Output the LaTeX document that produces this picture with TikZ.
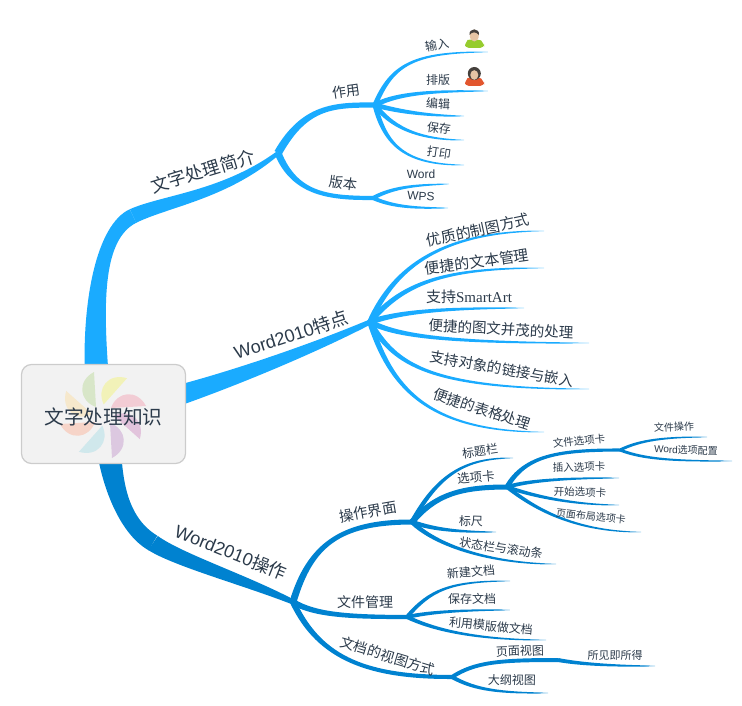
\documentclass[tikz,border=0pt]{standalone}
\usepackage{fontspec}
\setmainfont{Liberation Serif}
\newfontfamily\cjk{Noto Sans CJK SC}
\newfontfamily\arialf{Liberation Sans}
\usetikzlibrary{calc}
\definecolor{limbA}{HTML}{1AABFF}
\definecolor{limbB}{HTML}{0082D0}
\definecolor{labelcol}{HTML}{2B3A4A}
\pgfdeclarehorizontalshading{fadeA}{100bp}{color(0bp)=(limbA);color(69bp)=(limbA);color(75bp)=(limbA!35);color(100bp)=(limbA!35)}
\pgfdeclarehorizontalshading{fadeB}{100bp}{color(0bp)=(limbB);color(69bp)=(limbB);color(75bp)=(limbB!35);color(100bp)=(limbB!35)}
\tikzset{
 solidA/.style={fill=limbA},
 solidB/.style={fill=limbB},
 leafA/.style={shading=fadeA},
 leafB/.style={shading=fadeB},
 lbl/.style={font=\cjk\fontsize{#1}{#1}\selectfont,text=labelcol,inner sep=0pt},
}
% tapered curve: style, from, control, control, to, half widths, weights at the controls
\newcommand{\taper}[9]{
 \pgfmathsetmacro\wone{#8*#6+(1-#8)*#7}
 \pgfmathsetmacro\wtwo{#9*#6+(1-#9)*#7}
 \path[#1] ($(#2)!#6pt!90:(#3)$)
 .. controls ($(#3)!\wone pt!-90:(#2)$) and ($(#4)!\wtwo pt!90:(#5)$) .. ($(#5)!#7pt!-90:(#4)$)
 -- ($(#5)!#7pt!90:(#4)$)
 .. controls ($(#4)!\wtwo pt!-90:(#5)$) and ($(#3)!\wone pt!90:(#2)$) .. ($(#2)!#6pt!-90:(#3)$) -- cycle;
}
\newcommand{\limb}[7][solidA]{\taper{#1}{#2}{#3}{#4}{#5}{#6}{#7}{.67}{.33}}
\newcommand{\leaf}[7][leafA]{\taper{#1}{#2}{#3}{#4}{#5}{#6}{#7}{.85}{.5}}
\begin{document}
\begin{tikzpicture}[x=1pt,y=-1pt]
\useasboundingbox (0,0) rectangle (742,706);
%junctions
\coordinate (rootA) at (97,380); \coordinate (bendA) at (133,216); \coordinate (intro) at (278,153);
\coordinate (useJ) at (375,105); \coordinate (verJ) at (373,198);
\coordinate (rootB) at (170,398); \coordinate (featJ) at (370,322);
\coordinate (rootC) at (109,450); \coordinate (bendC) at (153,543); \coordinate (opJ) at (293,602);
\coordinate (uiJ) at (412,522); \coordinate (tabJ) at (507,487); \coordinate (fileTabJ) at (620,450);
\coordinate (mgrJ) at (407,617); \coordinate (viewJ) at (452,677); \coordinate (pageJ) at (558,660);
%free ends
\coordinate (eInput) at (488,52); \coordinate (eLayout) at (488,91); \coordinate (eEdit) at (464,116);
\coordinate (eSave) at (464,140); \coordinate (ePrint) at (464,165); \coordinate (eWord) at (449,184);
\coordinate (eWps) at (448,208);
\coordinate (eDraw) at (544,231); \coordinate (eText) at (544,268); \coordinate (eSmart) at (524,308);
\coordinate (ePic) at (589,343); \coordinate (eLink) at (589,389); \coordinate (eTable) at (544,432);
\coordinate (eTitle) at (513,458); \coordinate (eRuler) at (496,532); \coordinate (eStatus) at (556,564);
\coordinate (eIns) at (619,478); \coordinate (eStart) at (619,505); \coordinate (ePageTab) at (641,532);
\coordinate (eFileOp) at (707,437); \coordinate (eWordOpt) at (732,461);
\coordinate (eNew) at (510,581); \coordinate (eKeep) at (510,610); \coordinate (eTpl) at (546,640);
\coordinate (eWysiwyg) at (655,666); \coordinate (eOutline) at (548,693);
%first main branch
\taper{solidA}{rootA}{92,300}{100,232}{bendA}{12}{7.5}{.67}{.15}
\leaf[solidA]{bendA}{165,201}{225,195}{intro}{7.5}{2}
\limb{intro}{305,105}{335,105}{useJ}{4}{2.5}
\limb{intro}{295,195}{330,198}{verJ}{3.5}{2}
\leaf{useJ}{392,65}{412,52}{eInput}{2.5}{.4}
\leaf{useJ}{400,92}{440,91}{eLayout}{2.5}{.4}
\leaf{useJ}{400,112}{430,116}{eEdit}{2.5}{.4}
\leaf{useJ}{390,125}{415,140}{eSave}{2.5}{.4}
\leaf{useJ}{385,145}{405,165}{ePrint}{2.5}{.4}
\leaf{verJ}{395,186}{420,185}{eWord}{2}{.4}
\leaf{verJ}{395,208}{420,208}{eWps}{2}{.4}
%second main branch
\limb{rootB}{230,380}{310,350}{featJ}{10.5}{2.5}
\leaf{featJ}{395,265}{445,231}{eDraw}{2.8}{.4}
\leaf{featJ}{405,280}{450,268}{eText}{2.8}{.4}
\leaf{featJ}{400,312}{440,308}{eSmart}{2.8}{.4}
\leaf{featJ}{395,335}{440,343}{ePic}{2.8}{.4}
\leaf{featJ}{395,365}{430,389}{eLink}{2.8}{.4}
\leaf{featJ}{390,385}{425,432}{eTable}{2.8}{.4}
%third main branch
\taper{solidB}{rootC}{112,480}{122,525}{bendC}{12}{8.5}{.67}{.15}
\leaf[solidB]{bendC}{178,560}{245,580}{opJ}{8.5}{2.5}
\limb[solidB]{opJ}{310,545}{340,522}{uiJ}{3.5}{2.5}
\limb[solidB]{opJ}{315,615}{350,617}{mgrJ}{3}{2}
\limb[solidB]{opJ}{320,660}{370,677}{viewJ}{3}{2}
\leaf[leafB]{uiJ}{440,470}{470,458}{eTitle}{2.3}{.4}
\limb[solidB]{uiJ}{435,495}{460,487}{tabJ}{3}{2.5}
\leaf[leafB]{uiJ}{435,530}{460,532}{eRuler}{2.3}{.4}
\leaf[leafB]{uiJ}{435,545}{490,564}{eStatus}{2.3}{.4}
\limb[solidB]{tabJ}{525,455}{560,450}{fileTabJ}{2.5}{1.5}
\leaf[leafB]{tabJ}{530,480}{570,478}{eIns}{2}{.4}
\leaf[leafB]{tabJ}{530,495}{570,505}{eStart}{2}{.4}
\leaf[leafB]{tabJ}{530,505}{570,532}{ePageTab}{2}{.4}
\leaf[leafB]{fileTabJ}{640,440}{665,437}{eFileOp}{1.5}{.4}
\leaf[leafB]{fileTabJ}{645,460}{680,461}{eWordOpt}{1.5}{.4}
\leaf[leafB]{mgrJ}{430,590}{450,581}{eNew}{2}{.4}
\leaf[leafB]{mgrJ}{430,612}{460,610}{eKeep}{2}{.4}
\leaf[leafB]{mgrJ}{430,628}{470,640}{eTpl}{2}{.4}
\limb[solidB]{viewJ}{475,662}{500,660}{pageJ}{2}{2}
\leaf[leafB]{pageJ}{580,664}{610,666}{eWysiwyg}{2}{.4}
\leaf[leafB]{viewJ}{475,690}{500,693}{eOutline}{2}{.4}
%centre box with pinwheel
\node[draw=black!20,line width=1.2pt,fill=black!5,rounded corners=10pt,minimum width=164pt,minimum height=99pt,inner sep=0pt] (root) at (103.5,414) {};
\coordinate (pin) at (103,415);
\foreach \a/\c in {0/D8E6C8,45/F2F2B8,90/F2CCD4,135/E2C4DC,180/DCC8E0,225/D0E8EC,270/F6D4C8,315/F6E8CC}{
 \definecolor{petal}{HTML}{\c}
 \fill[petal,shift={(pin)},rotate=-\a] (-7,-8) .. controls (-24,-14) and (-26,-34) .. (-9,-43) -- cycle;
}
\node[lbl=19.7] (rootT) at (103.5,416.5) {文字处理知识};
%labels
\node[lbl=17.8,rotate=17] (introT) at (203,171) {文字处理简介};
\node[lbl=14,rotate=8] (useT) at (346,91) {作用};
\node[lbl=14,rotate=-8] (verT) at (343,183) {版本};
\node[lbl=12,rotate=10] (inputT) at (437,45) {输入};
\node[lbl=12] (layoutT) at (438,80) {排版};
\node[lbl=12,rotate=-3] (editT) at (438,104) {编辑};
\node[lbl=12,rotate=-7] (saveT) at (439,128) {保存};
\node[lbl=12,rotate=-8] (printT) at (439,153) {打印};
\node[lbl=12] (wordT) at (421,174) {\arialf Word};
\node[lbl=12,rotate=-3] (wpsT) at (421,196) {\arialf WPS};
\node[lbl=18,rotate=18] (featT) at (291,335) {{\arialf Word2010}特点};
\node[lbl=15,rotate=12] (drawT) at (478,230) {优质的制图方式};
\node[lbl=15,rotate=8] (textT) at (477,262) {便捷的文本管理};
\node[lbl=15] (smartT) at (469,297) {支持{\rmfamily SmartArt}};
\node[lbl=14.5,rotate=-3] (picT) at (501,329) {便捷的图文并茂的处理};
\node[lbl=14.5,rotate=-10] (linkT) at (502,369) {支持对象的链接与嵌入};
\node[lbl=14.5,rotate=-18] (tableT) at (482,409) {便捷的表格处理};
\node[lbl=18,rotate=-22] (opT) at (231,552) {{\arialf Word2010}操作};
\node[lbl=14.5,rotate=10] (uiT) at (368,512) {操作界面};
\node[lbl=12,rotate=8] (titleT) at (480,451) {标题栏};
\node[lbl=12.5,rotate=5] (tabT) at (476,477) {选项卡};
\node[lbl=10.5,rotate=6] (fileTabT) at (579,441) {文件选项卡};
\node[lbl=10,rotate=2] (fileOpT) at (674,427) {文件操作};
\node[lbl=10,rotate=-2] (wordOptT) at (686,450) {{\arialf Word}选项配置};
\node[lbl=10.5,rotate=1] (insT) at (579,467) {插入选项卡};
\node[lbl=10.5,rotate=-2] (startT) at (580,492) {开始选项卡};
\node[lbl=10,rotate=-6] (pageTabT) at (591,516) {页面布局选项卡};
\node[lbl=12,rotate=-2] (rulerT) at (471,521) {标尺};
\node[lbl=12,rotate=-8] (statusT) at (501,548) {状态栏与滚动条};
\node[lbl=14] (mgrT) at (365,602) {文件管理};
\node[lbl=12,rotate=5] (newT) at (471,572) {新建文档};
\node[lbl=12] (keepT) at (472,599) {保存文档};
\node[lbl=12,rotate=-5] (tplT) at (491,626) {利用模版做文档};
\node[lbl=14,rotate=-17] (viewT) at (388,656) {文档的视图方式};
\node[lbl=12,rotate=2] (pageT) at (520,651) {页面视图};
\node[lbl=12,rotate=-1] (outlineT) at (512,680) {大纲视图};
\node[lbl=11] (wysiwygT) at (615,655) {所见即所得};
%two people
\definecolor{skin}{HTML}{E6C4A4}
\definecolor{hair}{HTML}{45403C}
\definecolor{shirtM}{HTML}{96CC2E}
\definecolor{shirtF}{HTML}{E2562E}
\fill[shirtM,rounded corners=4pt] (465,48) -- (465,43) .. controls (468,39.5) and (480,39.5) .. (484,43) -- (484,48) -- cycle;
\fill[skin] (474.3,35.5) ellipse (4.5 and 6);
\fill[hair] (469.5,35) .. controls (468.5,27.5) and (480,27.5) .. (479,35) .. controls (476,31.5) and (472,31.5) .. (469.5,35) -- cycle;
\fill[shirtF,rounded corners=4pt] (465,86) -- (465,81) .. controls (468,77.5) and (480,77.5) .. (484,81) -- (484,86) -- cycle;
\fill[hair] (474.3,73.5) circle (6.5);
\fill[skin] (474.3,75) ellipse (4 and 4.8);
\end{tikzpicture}
\end{document}
